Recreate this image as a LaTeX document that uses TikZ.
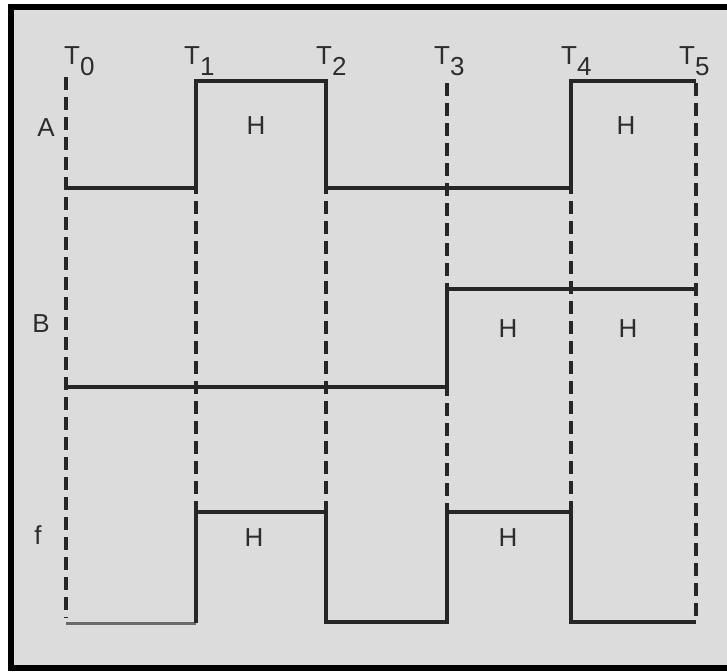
\documentclass[tikz,border=0pt]{standalone}
\usepackage{fontspec}
\setmainfont{Liberation Sans}
\usetikzlibrary{positioning}
\definecolor{panelgray}{RGB}{220,220,220}
\definecolor{tracedark}{RGB}{38,38,38}
\definecolor{tracelight}{RGB}{105,105,105}
\definecolor{labeltext}{RGB}{45,45,45}

\begin{document}
\begin{tikzpicture}[x=1pt, y=-1pt,
  sig/.style={draw=tracedark, line width=3.8pt, line join=miter},
  tickline/.style={draw=tracedark, line width=3.2pt,
    dash pattern=on 13pt off 7pt},
  lbl/.style={anchor=base, inner sep=0pt, text=labeltext,
    font=\fontsize{26}{30}\selectfont},
  tlbl/.style={anchor=base west, inner sep=0pt, text=labeltext,
    font=\fontsize{26}{30}\selectfont},
]
\useasboundingbox (0,0) rectangle (727,671);
% panel and frame
\fill[white] (0,0) rectangle (727,671);
\draw[line width=6pt, fill=panelgray] (11,7.5) rectangle (735,668);
% time instants: name/x/top/bottom/label x
\foreach \n/\x/\yt/\yb/\lx in {0/66/77/618/64, 1/196/81/512/184,
    2/326/81/512/316, 3/447/83/512/434, 4/571/81/512/561,
    5/696/83/622/679} {
  \coordinate (t\n) at (\x,0);
  \draw[tickline] (\x,\yt) -- (\x,\yb);
  \node[tlbl] (T\n) at (\lx,65) {T\raisebox{-11pt}{\n}};
}
% signal levels
\coordinate (Ahi) at (0,81);
\coordinate (Alo) at (0,188);
\coordinate (Bhi) at (0,289);
\coordinate (Blo) at (0,387);
\coordinate (fhi) at (0,512);
\coordinate (flo) at (0,622);
% signal A
\draw[sig] (t0|-Alo) -- (t1|-Alo) -- (t1|-Ahi) -- (t2|-Ahi) -- (t2|-Alo)
  -- (t4|-Alo) -- (t4|-Ahi) -- (t5|-Ahi);
% signal B
\draw[sig] (t0|-Blo) -- (t3|-Blo) -- (t3|-Bhi) -- (t5|-Bhi);
% signal f
\draw[sig, draw=tracelight, line width=3pt] ([yshift=-1pt]t0|-flo)
  -- ([yshift=-1pt]t1|-flo);
\draw[sig] ([yshift=-1pt]t1|-flo) -- (t1|-fhi) -- (t2|-fhi) -- (t2|-flo)
  -- (t3|-flo) -- (t3|-fhi) -- (t4|-fhi) -- (t4|-flo) -- (t5|-flo);
% lane names
\node[lbl] (nA) at (46,137) {A};
\node[lbl] (nB) at (41,332) {B};
\node[lbl] (nf) at (38,544) {f};
% high marks
\foreach \n/\x/\y in {a1/256/135, a2/626/135, b1/508/337, b2/628/337,
    f1/254/546, f2/508/546} {
  \node[lbl] (h\n) at (\x,\y) {H};
}
\end{tikzpicture}
\end{document}
